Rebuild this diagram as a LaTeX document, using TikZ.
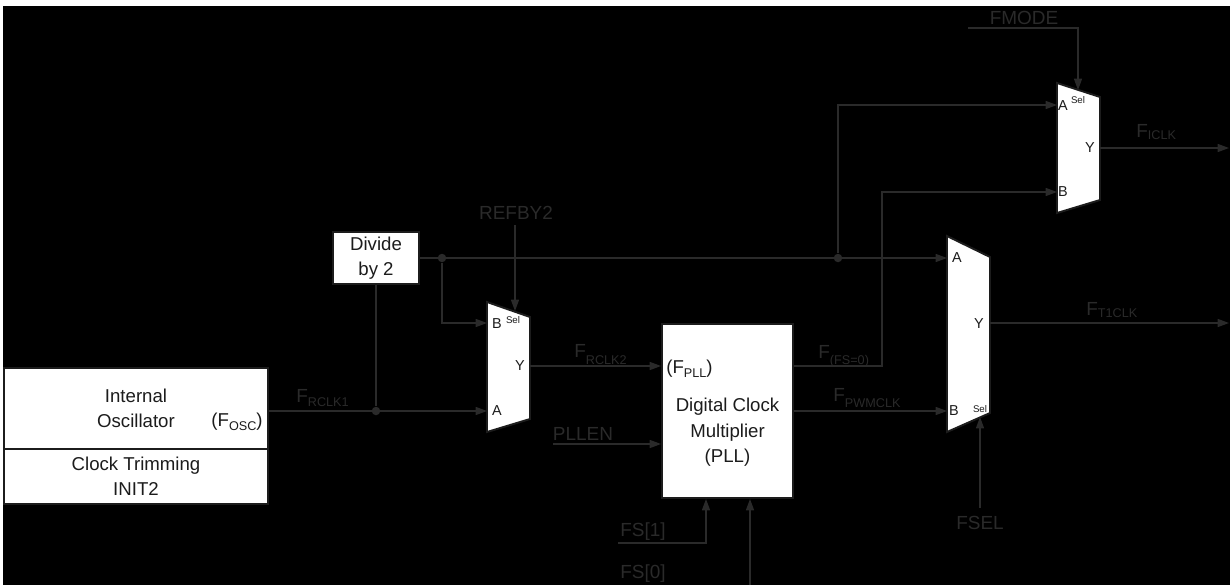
\documentclass[tikz,border=0pt]{standalone}
\usepackage{fontspec}
\setmainfont{Liberation Sans}
\usepackage{tikz}
\usetikzlibrary{positioning,arrows.meta}
\definecolor{ink}{HTML}{2A2A2A}
\definecolor{boxink}{HTML}{1C1C1C}
\newcommand{\fsig}[2][-4pt]{F\raisebox{#1}{\fontsize{7.2}{7.2}\selectfont #2}}

\begin{document}
\begin{tikzpicture}[
    x=0.02cm, y=-0.02cm,
    >={Triangle[length=6.5pt,width=4.6pt]},
    boxtext/.style={text=boxink,inner sep=0pt,align=center,font=\fontsize{10.6}{14.5}\selectfont},
    box/.style={boxtext,draw=boxink,line width=1.1pt,fill=white},
    mux/.style={draw=boxink,line width=1.1pt,fill=white},
    wire/.style={draw=ink,line width=0.75pt},
    junction/.style={circle,fill=ink,inner sep=0pt,minimum size=0.17cm},
    sig/.style={text=ink,inner sep=0pt,font=\fontsize{10.8}{12}\selectfont},
    muxpin/.style={text=boxink,inner sep=0pt,font=\fontsize{8.2}{9}\selectfont},
    seltext/.style={text=boxink,inner sep=0pt,font=\fontsize{5.5}{6}\selectfont},
  ]
  \useasboundingbox (0,0) rectangle (1230,585);
  \fill[white] (0,0) rectangle (1230,585);
  \fill[black] (3,6) rectangle (1230,585);

  % Internal oscillator
  \node[box,minimum width=5.28cm,minimum height=1.62cm] (osc) at (136,408.5) {Internal\\Oscillator};
  \node[boxtext,anchor=base east] (fosc) at (263,426) {(\fsig[-2.5pt]{OSC})};
  \node[box,minimum width=5.28cm,minimum height=1.1cm] (trim) at (136,476.5) {Clock Trimming\\INIT2};

  % Divide by 2
  \node[box,minimum width=1.72cm,minimum height=1.04cm] (div) at (376,258) {Divide\\by 2};

  % PLL
  \node[box,minimum width=2.62cm,minimum height=3.48cm] (pll) at (727.5,411) {};
  \node[boxtext] (pllname) at (727.5,432.5) {Digital Clock\\Multiplier\\(PLL)};
  \node[boxtext,anchor=base west] (fpll) at (666,373) {(\fsig[-2.8pt]{PLL})};

  % Mux REFBY2
  \draw[mux] (487,302) -- (530,317) -- (530,419) -- (487,432) -- cycle;
  \coordinate (m1A) at (487,411);
  \coordinate (m1B) at (487,323);
  \coordinate (m1Y) at (530,366);
  \coordinate (m1S) at (515,311);
  \node[muxpin] (m1Bl) at (497,324) {B};
  \node[seltext] (m1Sl) at (513,320) {Sel};
  \node[muxpin] (m1Yl) at (520,366) {Y};
  \node[muxpin] (m1Al) at (497,411) {A};

  % Mux FMODE
  \draw[mux] (1057,83) -- (1100,97) -- (1100,200) -- (1057,213) -- cycle;
  \coordinate (m2A) at (1057,105);
  \coordinate (m2B) at (1057,192);
  \coordinate (m2Y) at (1100,148);
  \coordinate (m2S) at (1078,90);
  \node[muxpin] (m2Al) at (1063,106) {A};
  \node[seltext] (m2Sl) at (1078,100) {Sel};
  \node[muxpin] (m2Yl) at (1090,148) {Y};
  \node[muxpin] (m2Bl) at (1063,192) {B};

  % Mux FSEL
  \draw[mux] (947,236) -- (990,257) -- (990,413) -- (947,432) -- cycle;
  \coordinate (m3A) at (947,258);
  \coordinate (m3B) at (947,411);
  \coordinate (m3Y) at (990,323);
  \coordinate (m3S) at (980,417);
  \node[muxpin] (m3Al) at (957,258) {A};
  \node[muxpin] (m3Yl) at (979,324) {Y};
  \node[muxpin] (m3Bl) at (954,411) {B};
  \node[seltext] (m3Sl) at (980,409) {Sel};

  % Signal names
  \node[sig] (refby2) at (516,213) {REFBY2};
  \node[sig] (pllen) at (583,434) {PLLEN};
  \node[sig] (fs1) at (643,532) {FS[1]};
  \node[sig] (fs0) at (643,574) {FS[0]};
  \node[sig] (fmode) at (1024,18) {FMODE};
  \node[sig] (fsel) at (980,523) {FSEL};

  \node[sig,anchor=base west] (frclk1) at (296,402) {\fsig[-2.8pt]{RCLK1}};
  \node[sig,anchor=base west] (frclk2) at (574,357) {\fsig[-4pt]{RCLK2}};
  \node[sig,anchor=base west] (ffs0) at (818,358) {\fsig[-3.5pt]{(FS=0)}};
  \node[sig,anchor=base west] (fpwm) at (833,401) {\fsig[-3.5pt]{PWMCLK}};
  \node[sig,anchor=base west] (ficlk) at (1136,137) {\fsig[-1.7pt]{ICLK}};
  \node[sig,anchor=base west] (ft1clk) at (1086,315) {\fsig[-1.7pt]{T1CLK}};

  % Free ends
  \coordinate (refin) at (515,225);
  \coordinate (pllenin) at (553,444);
  \coordinate (fs1in) at (618,543);
  \coordinate (fs0in) at (750,585);
  \coordinate (fmodein) at (968,28);
  \coordinate (fselin) at (980,508);
  \coordinate (iclkout) at (1229,148);
  \coordinate (t1clkout) at (1229,323);

  % Wires
  \node[junction] (j1) at (div.south |- m1A) {};
  \node[junction] (j2) at (442,258) {};
  \node[junction] (j3) at (838,258) {};
  \draw[wire,->] (osc.east |- m1A) -- (m1A);
  \draw[wire] (div.south) -- (j1);
  \draw[wire,->] (div.east) -- (m3A);
  \draw[wire,->] (j2) |- (m1B);
  \draw[wire,->] (refin) -- (m1S);
  \draw[wire,->] (m1Y) -- (m1Y -| pll.west);
  \draw[wire,->] (pllenin) -- (pllenin -| pll.west);
  \draw[wire,->] (fs1in) -| ([xshift=-0.43cm]pll.south);
  \draw[wire,->] (fs0in) -- (fs0in |- pll.south);
  \draw[wire,->] (m1Y -| pll.east) -- ++(88,0) |- (m2B);
  \draw[wire,->] (m3B -| pll.east) -- (m3B);
  \draw[wire,->] (j3) |- (m2A);
  \draw[wire,->] (fmodein) -| (m2S);
  \draw[wire,->] (fselin) -- (m3S);
  \draw[wire,->] (m2Y) -- (iclkout);
  \draw[wire,->] (m3Y) -- (t1clkout);
\end{tikzpicture}
\end{document}
